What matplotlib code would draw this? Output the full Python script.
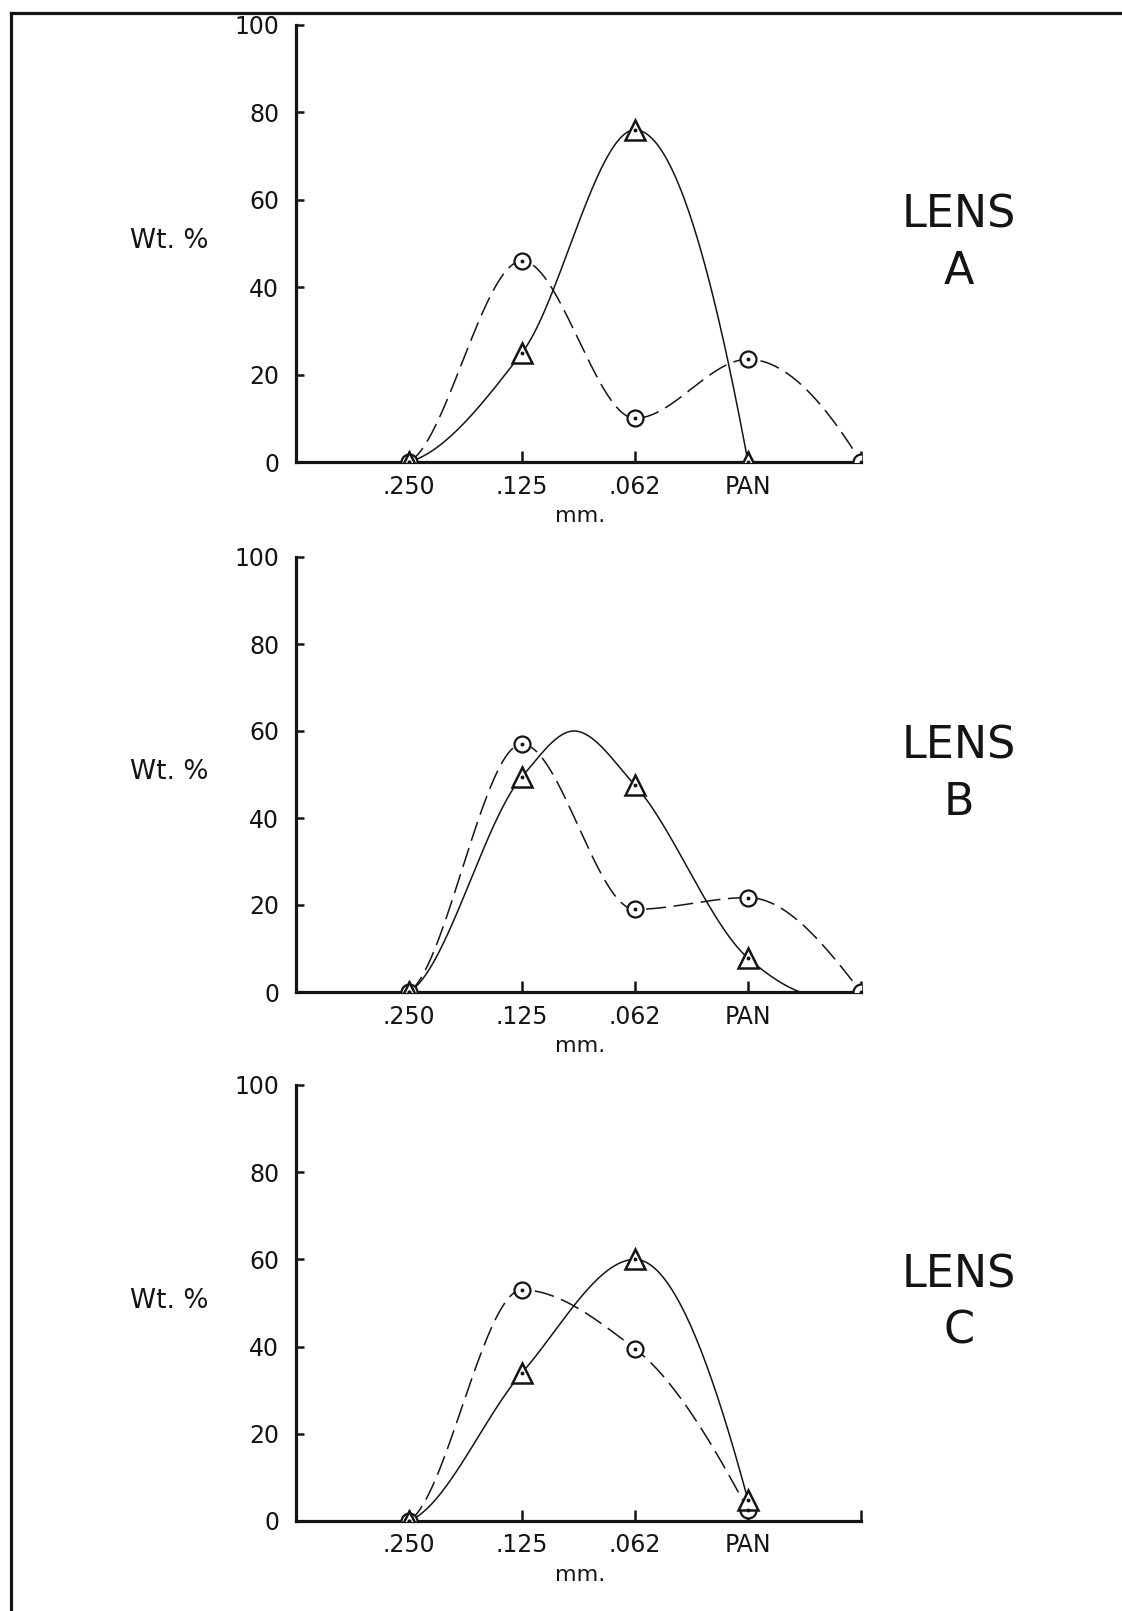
import numpy as np
import matplotlib
matplotlib.use("Agg")
import matplotlib.pyplot as plt
from matplotlib.lines import Line2D

plt.rcParams['font.family'] = ['DejaVu Sans']

# ---------------- data ----------------
sizes = ['.250', '.125', '.062', 'PAN']      # sieve classes (mm.)
size_pos = [1, 2, 3, 4]                        # category slots on the x axis
end_pos = 5                                    # unlabeled right end of the axis

# Lens A
a_tri_x = [1, 2, 3, 4]
a_tri_y = [0, 25, 76, 0]
a_circ_x = [1, 2, 3, 4, 5]
a_circ_y = [0, 46, 10, 23.5, 0]

# Lens B
b_tri_x = [1, 2, 3, 4]
b_tri_y = [0, 49.5, 47.5, 7.8]
# the hand-drawn solid curve of lens B overshoots between the points
b_tri_curve_x = [1, 2, 2.46, 3, 4, 4.46]
b_tri_curve_y = [0, 49.5, 60, 47.5, 7.8, 0]
b_circ_x = [1, 2, 3, 4, 5]
b_circ_y = [0, 57, 19, 21.7, 0]

# Lens C
c_tri_x = [1, 2, 3, 4]
c_tri_y = [0, 34, 60, 4.8]
c_circ_x = [1, 2, 3, 4]
c_circ_y = [0, 53, 39.5, 2.5]

panels = [
    dict(name='A', tri=(a_tri_x, a_tri_y), tri_curve=(a_tri_x, a_tri_y),
         circ=(a_circ_x, a_circ_y), circ_curve=(a_circ_x, a_circ_y)),
    dict(name='B', tri=(b_tri_x, b_tri_y), tri_curve=(b_tri_curve_x, b_tri_curve_y),
         circ=(b_circ_x, b_circ_y), circ_curve=(b_circ_x, b_circ_y)),
    dict(name='C', tri=(c_tri_x, c_tri_y), tri_curve=(c_tri_x, c_tri_y),
         circ=(c_circ_x, c_circ_y), circ_curve=(c_circ_x, c_circ_y)),
]

y_ticks = [0, 20, 40, 60, 80, 100]


# ---------------- smooth curve helper (shape-preserving cubic) ----------------
def pchip(x, y, n=400, start_scale=0.3):
    x = np.asarray(x, float)
    y = np.asarray(y, float)
    h = np.diff(x)
    d = np.diff(y) / h
    m = np.zeros_like(y)
    for k in range(1, len(x) - 1):
        if d[k - 1] * d[k] <= 0:
            m[k] = 0.0
        else:
            w1 = 2 * h[k] + h[k - 1]
            w2 = h[k] + 2 * h[k - 1]
            m[k] = (w1 + w2) / (w1 / d[k - 1] + w2 / d[k])

    def end(h0, h1, d0, d1):
        t = ((2 * h0 + h1) * d0 - h0 * d1) / (h0 + h1)
        if np.sign(t) != np.sign(d0):
            return 0.0
        if np.sign(d0) != np.sign(d1) and abs(t) > abs(3 * d0):
            return 3 * d0
        return t

    m[0] = start_scale * d[0]
    m[-1] = end(h[-1], h[-2], d[-1], d[-2])
    xs = np.linspace(x[0], x[-1], n)
    idx = np.clip(np.searchsorted(x, xs, side='right') - 1, 0, len(x) - 2)
    t = (xs - x[idx]) / h[idx]
    h00 = 2 * t**3 - 3 * t**2 + 1
    h10 = t**3 - 2 * t**2 + t
    h01 = -2 * t**3 + 3 * t**2
    h11 = t**3 - t**2
    ys = h00 * y[idx] + h10 * h[idx] * m[idx] + h01 * y[idx + 1] + h11 * h[idx] * m[idx + 1]
    return xs, ys


# ---------------- figure ----------------
W, H = 1122, 1611
fig = plt.figure(figsize=(W / 100, H / 100), dpi=100)
fig.patch.set_facecolor('white')

ink = '#141414'

# page border (top and left)
fig.add_artist(Line2D([11 / W, 1.0], [1 - 13 / H, 1 - 13 / H], color=ink, lw=2.3,
                      transform=fig.transFigure))
fig.add_artist(Line2D([11 / W, 11 / W], [1 - 13 / H, 0.0], color=ink, lw=2.3,
                      transform=fig.transFigure))

ax_left = 296 / W
ax_width = 565 / W
tops = [25, 557, 1085]
bottoms = [462, 992, 1521]

for p, top, bot in zip(panels, tops, bottoms):
    ax = fig.add_axes([ax_left, 1 - bot / H, ax_width, (bot - top) / H])
    ax.set_xlim(0, end_pos)
    ax.set_ylim(0, 100)
    for s in ('top', 'right'):
        ax.spines[s].set_visible(False)
    for s in ('left', 'bottom'):
        ax.spines[s].set_linewidth(2.3)
        ax.spines[s].set_color(ink)
        ax.spines[s].set_capstyle('projecting')

    ax.set_xticks(size_pos + [end_pos])
    ax.set_xticklabels(sizes + [''])
    ax.set_yticks(y_ticks)
    ax.set_yticklabels([str(v) for v in y_ticks])
    ax.tick_params(axis='x', direction='in', length=8, width=1.8, color=ink,
                   labelsize=17, pad=9, labelcolor=ink)
    ax.tick_params(axis='y', direction='in', length=6, width=1.8, color=ink,
                   labelsize=17, pad=12, labelcolor=ink)

    # curves
    tx, ty = pchip(*p['tri_curve'])
    ax.plot(tx, ty, color=ink, lw=1.1, solid_capstyle='round', zorder=3)
    cx, cy = pchip(*p['circ_curve'])
    ax.plot(cx, cy, color=ink, lw=1.1, linestyle=(0, (13, 5)), zorder=3)

    # markers (open with a centre dot)
    ax.plot(p['circ'][0], p['circ'][1], linestyle='none', marker='o', ms=11.5,
            mfc='white', mec=ink, mew=1.6, zorder=4)
    ax.plot(p['tri'][0], p['tri'][1], linestyle='none', marker='^', ms=14,
            mfc='white', mec=ink, mew=1.8, zorder=4)
    ax.plot(p['tri'][0], p['tri'][1], linestyle='none', marker='o', ms=1.8,
            color=ink, zorder=5)
    ax.plot(p['circ'][0], p['circ'][1], linestyle='none', marker='o', ms=1.8,
            color=ink, zorder=5)

    # labels
    ax.text(-1.12, 50.5, 'Wt. %', fontsize=19, ha='center', va='center',
            color=ink, clip_on=False)
    ax.text(2.51, -12.4, 'mm.', fontsize=16, ha='center', va='center',
            color=ink, clip_on=False)
    ax.text(5.87, 56.5, 'LENS', fontsize=32, ha='center', va='center',
            color=ink, clip_on=False)
    ax.text(5.87, 43.5, p['name'], fontsize=32, ha='center', va='center',
            color=ink, clip_on=False)

fig.savefig('out.png', dpi=100, facecolor='white')
